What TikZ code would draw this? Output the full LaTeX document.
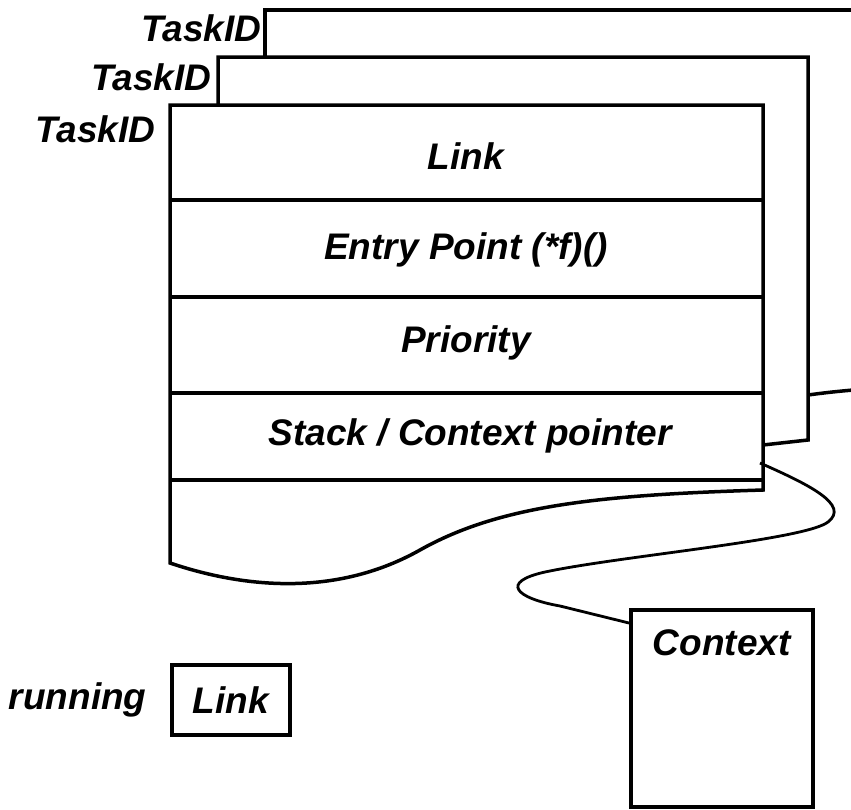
\documentclass[tikz,border=0pt]{standalone}
\usepackage{fontspec}
\setmainfont{Liberation Sans}
\usetikzlibrary{positioning}

\begin{document}
\begin{tikzpicture}[
    x=1pt, y=-1pt,
    line width=3.5pt,
    lbl/.style={font=\fontsize{37}{40}\selectfont\bfseries\itshape, inner sep=0pt},
    box/.style={rectangle, draw, line width=3.5pt, inner sep=0pt},
    wire/.style={line width=2.8pt}
]
    \useasboundingbox (0,0) rectangle (851,809);

    % tasks behind the front one
    \begin{scope}
        \clip (0,0) rectangle (851,809);
        \draw (265,57) -- (265,10) -- (880,10);
        \draw (808,395) .. controls (830,392) and (850,390) .. (880,388);
    \end{scope}
    \draw (218,105) -- (218,57) -- (808,57) -- (808,440) -- (763,445);

    % front task
    \draw[fill=white] (170,105) -- (763,105) -- (763,490)
        .. controls (600,495) and (500,505) .. (420,550)
        .. controls (340,595) and (250,590) .. (170,563) -- cycle;
    \foreach \y in {200,297,393,480}
        \draw (170,\y) -- (763,\y);

    \node[lbl, anchor=east] (tid3) at (263,28) {TaskID};
    \node[lbl, anchor=east] (tid2) at (213,77) {TaskID};
    \node[lbl, anchor=east] (tid1) at (157,129) {TaskID};

    \node[lbl] (link) at (466,156) {Link};
    \node[lbl] (entry) at (466,250) {Entry Point (*f)()};
    \node[lbl] (prio) at (466,343) {Priority};
    \node[lbl] (stack) at (470,436) {Stack / Context pointer};

    % context block
    \node[box, minimum width=182pt, minimum height=197pt, anchor=north west] (ctx) at (629,608) {};
    \node[lbl, below=20pt of ctx.north] (ctxtext) {Context};

    \coordinate (sp) at (760,463);
    \draw[wire] (sp) .. controls (810,485) and (850,505) .. (828,522)
        .. controls (805,540) and (620,556) .. (545,572)
        .. controls (500,582) and (515,598) .. (560,606)
        -- ([yshift=-15pt]ctx.north west);

    % running pointer
    \node[box, lbl, draw, line width=3.5pt, minimum width=118pt, minimum height=70pt] (run) at (231,700) {Link};
    \node[lbl, left=22pt of run] (running) {running};
\end{tikzpicture}
\end{document}
